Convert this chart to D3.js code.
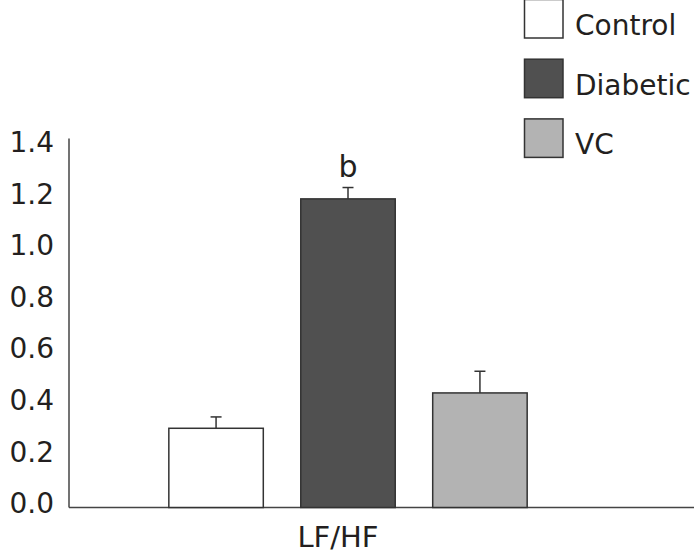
<!DOCTYPE html>
<html>
<head>
<meta charset="utf-8">
<script src="https://cdn.jsdelivr.net/npm/d3@7"></script>
<style>
  html, body { margin: 0; padding: 0; background: #fff; }
  svg { display: block; }
</style>
</head>
<body>
<svg id="chart" width="694" height="555"></svg>
<script>
const categories = ["LF/HF"];
const series = ["Control", "Diabetic", "VC"];
const values = [0.307, 1.196, 0.444];
const errors = [0.044, 0.044, 0.084];
const sigLabels = ["", "b", ""];
const colors = ["#ffffff", "#505050", "#b3b3b3"];
const yTicks = [0, 0.2, 0.4, 0.6, 0.8, 1.0, 1.2, 1.4];

const svg = d3.select("#chart");
const font = "'DejaVu Sans', Verdana, sans-serif";
const ink = "#231f20";

const y = d3.scaleLinear().domain([0, 1.43]).range([507.5, 138.5]);
const x0 = d3.scaleBand().domain(categories).range([69, 627]).paddingOuter(0.2786).paddingInner(0);
const x1 = d3.scaleBand().domain(series).range([0, x0.bandwidth()]).paddingInner(0.284).paddingOuter(0);

// axes lines
svg.append("line").attr("x1", 69).attr("x2", 69).attr("y1", y.range()[1]).attr("y2", y(0))
  .attr("stroke", "#444").attr("stroke-width", 1.5);
svg.append("line").attr("x1", 69).attr("x2", 694).attr("y1", y(0)).attr("y2", y(0))
  .attr("stroke", "#444").attr("stroke-width", 1.5);

// y tick labels
svg.append("g").selectAll("text").data(yTicks).join("text")
  .attr("x", 54).attr("y", d => y(d) + 5.7)
  .attr("text-anchor", "end")
  .attr("font-family", font).attr("font-size", 28).attr("fill", ink)
  .text(d => d3.format(".1f")(d));

// bars
const g = svg.append("g").attr("transform", `translate(${x0(categories[0])},0)`);
const data = series.map((s, i) => ({ s, v: values[i], e: errors[i], c: colors[i], lab: sigLabels[i] }));

// error bars
data.forEach(d => {
  const cx = x1(d.s) + x1.bandwidth() / 2;
  g.append("line").attr("x1", cx).attr("x2", cx).attr("y1", y(d.v)).attr("y2", y(d.v + d.e))
    .attr("stroke", "#333").attr("stroke-width", 1.5);
  g.append("line").attr("x1", cx - 5.5).attr("x2", cx + 5.5).attr("y1", y(d.v + d.e)).attr("y2", y(d.v + d.e))
    .attr("stroke", "#333").attr("stroke-width", 1.5);
  if (d.lab) {
    g.append("text").attr("x", cx).attr("y", y(d.v + d.e) - 11)
      .attr("text-anchor", "middle").attr("font-family", font).attr("font-size", 30).attr("fill", ink)
      .text(d.lab);
  }
});

g.selectAll("rect.bar").data(data).join("rect")
  .attr("class", "bar")
  .attr("x", d => x1(d.s))
  .attr("y", d => y(d.v))
  .attr("width", x1.bandwidth())
  .attr("height", d => y(0) - y(d.v))
  .attr("fill", d => d.c)
  .attr("stroke", "#333").attr("stroke-width", 1.5);

// x category label
svg.append("text")
  .attr("x", x0(categories[0]) + x0.bandwidth() / 2 - 10)
  .attr("y", 547)
  .attr("text-anchor", "middle")
  .attr("font-family", font).attr("font-size", 29).attr("fill", ink)
  .text(categories[0]);

// legend
const leg = svg.append("g");
series.forEach((s, i) => {
  const top = -0.5 + i * 59.7;
  leg.append("rect").attr("x", 524.5).attr("y", top).attr("width", 38.5).attr("height", 38.5)
    .attr("fill", colors[i]).attr("stroke", "#333").attr("stroke-width", 1.5);
  leg.append("text").attr("x", 575).attr("y", top + 35.5)
    .attr("font-family", font).attr("font-size", 28).attr("fill", ink)
    .text(s);
});
</script>
</body>
</html>
